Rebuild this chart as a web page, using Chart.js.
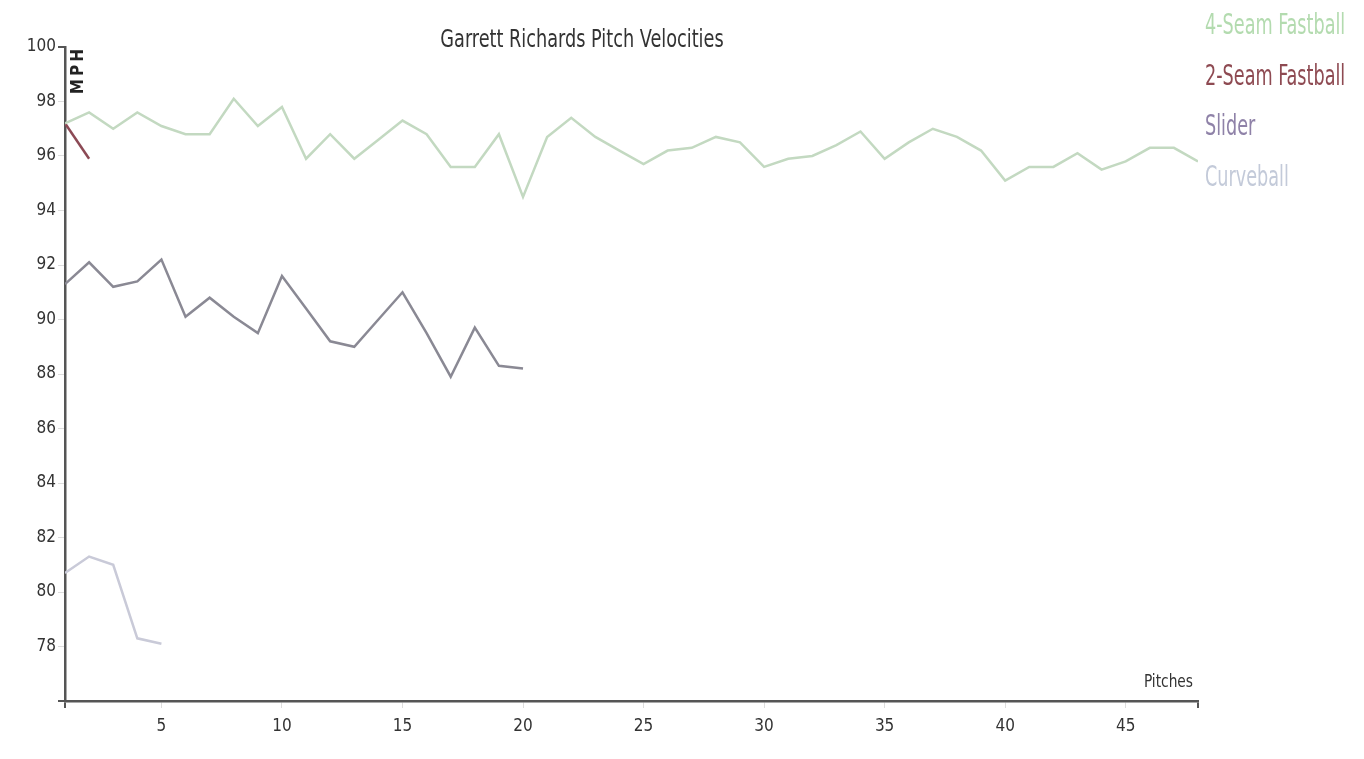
<!DOCTYPE html>
<html>
<head>
<meta charset="utf-8">
<title>Garrett Richards Pitch Velocities</title>
<script src="https://cdn.jsdelivr.net/npm/chart.js@4.4.1/dist/chart.umd.min.js"></script>
<style>
  html, body { margin: 0; padding: 0; background: #fff; }
  #wrap { width: 1364px; height: 759px; position: relative; }
</style>
</head>
<body>
<div id="wrap"><canvas id="chart"></canvas></div>
<script>
// pitch velocities in MPH, pitch n = index + 1
const fourSeam = [97.2, 97.6, 97.0, 97.6, 97.1, 96.8, 96.8, 98.1, 97.1, 97.8,
                  95.9, 96.8, 95.9, 96.6, 97.3, 96.8, 95.6, 95.6, 96.8, 94.5,
                  96.7, 97.4, 96.7, 96.2, 95.7, 96.2, 96.3, 96.7, 96.5, 95.6,
                  95.9, 96.0, 96.4, 96.9, 95.9, 96.5, 97.0, 96.7, 96.2, 95.1,
                  95.6, 95.6, 96.1, 95.5, 95.8, 96.3, 96.3, 95.8];
const twoSeam = [97.2, 95.9];
const slider = [91.3, 92.1, 91.2, 91.4, 92.2, 90.1, 90.8, 90.1, 89.5, 91.6,
                90.4, 89.2, 89.0, 90.0, 91.0, 89.5, 87.9, 89.7, 88.3, 88.2];
const curveball = [80.7, 81.3, 81.0, 78.3, 78.1];

const seriesNames = ['4-Seam Fastball', '2-Seam Fastball', 'Slider', 'Curveball'];
const lineColors = ['#c3d9c1', '#8c4a55', '#8a8994', '#c9cad8'];
const legendColors = ['#b3dbaf', '#8e4a52', '#8f82a8', '#c3cad9'];

const xTicks = [1, 5, 10, 15, 20, 25, 30, 35, 40, 45, 48];
const yTicks = [76, 78, 80, 82, 84, 86, 88, 90, 92, 94, 96, 98, 100];

const FONT = "'Liberation Sans Narrow', 'DejaVu Sans Condensed', Arial, sans-serif";

function toPoints(arr) {
  return arr.map((v, i) => ({ x: i + 1, y: v }));
}

// narrow text: the original uses a condensed face, squeeze horizontally
function narrowText(ctx, text, x, y, squeeze) {
  ctx.save();
  ctx.translate(x, y);
  ctx.scale(squeeze, 1);
  ctx.fillText(text, 0, 0);
  ctx.restore();
}

const overlay = {
  id: 'overlay',
  afterDraw(chart) {
    const ctx = chart.ctx;
    const area = chart.chartArea;
    ctx.save();
    // title
    ctx.fillStyle = '#333';
    ctx.font = '24px ' + FONT;
    ctx.textAlign = 'center';
    ctx.textBaseline = 'middle';
    narrowText(ctx, 'Garrett Richards Pitch Velocities', 582, 41, 0.82);
    // axis titles
    ctx.font = 'bold 17px ' + FONT;
    ctx.fillStyle = '#222';
    ctx.save();
    ctx.translate(area.left + 14, area.top - 1);
    ctx.rotate(-Math.PI / 2);
    ctx.textAlign = 'right';
    ctx.letterSpacing = '3px';
    ctx.fillText('MPH', 0, 0);
    ctx.restore();
    ctx.font = '17px ' + FONT;
    ctx.fillStyle = '#333';
    ctx.textAlign = 'right';
    ctx.textBaseline = 'alphabetic';
    narrowText(ctx, 'Pitches', area.right - 5, area.bottom - 14, 0.9);
    // legend
    ctx.font = '28px ' + FONT;
    ctx.textAlign = 'left';
    ctx.textBaseline = 'middle';
    chart.data.datasets.forEach((ds, i) => {
      ctx.fillStyle = legendColors[i];
      narrowText(ctx, ds.label, 1205, 27 + i * 50.5, 0.7);
    });
    ctx.restore();
  }
};

new Chart(document.getElementById('chart'), {
  type: 'line',
  data: {
    datasets: [fourSeam, twoSeam, slider, curveball].map((arr, i) => ({
      label: seriesNames[i],
      data: toPoints(arr),
      borderColor: lineColors[i],
      borderWidth: 2.5,
      pointRadius: 0,
      tension: 0,
      fill: false
    }))
  },
  options: {
    responsive: true,
    maintainAspectRatio: false,
    animation: false,
    layout: { padding: { top: 47, right: 166, left: 0, bottom: 0 } },
    plugins: {
      legend: { display: false },
      title: { display: false },
      tooltip: { enabled: false }
    },
    scales: {
      x: {
        type: 'linear',
        min: 1,
        max: 48,
        afterBuildTicks(scale) { scale.ticks = xTicks.map(v => ({ value: v })); },
        afterFit(scale) { scale.height = 58; },
        border: { display: true, color: '#555', width: 2.5 },
        grid: {
          drawOnChartArea: false,
          drawTicks: true,
          tickLength: 7,
          color: ctx => (ctx.tick && (ctx.tick.value === 1 || ctx.tick.value === 48)) ? '#555' : '#ddd',
          lineWidth: ctx => (ctx.tick && (ctx.tick.value === 1 || ctx.tick.value === 48)) ? 2 : 1
        },
        ticks: {
          autoSkip: false,
          maxRotation: 0,
          padding: 8,
          color: '#333',
          font: { family: FONT, size: 17 },
          callback: v => (v === 1 || v === 48) ? '' : v
        }
      },
      y: {
        min: 76,
        max: 100,
        afterBuildTicks(scale) { scale.ticks = yTicks.map(v => ({ value: v })); },
        afterFit(scale) { scale.width = 65; },
        border: { display: true, color: '#555', width: 2.5 },
        grid: {
          drawOnChartArea: false,
          drawTicks: true,
          tickLength: 7,
          color: ctx => (ctx.tick && (ctx.tick.value === 76 || ctx.tick.value === 100)) ? '#555' : '#ddd',
          lineWidth: ctx => (ctx.tick && (ctx.tick.value === 76 || ctx.tick.value === 100)) ? 2 : 1
        },
        ticks: {
          autoSkip: false,
          padding: 2,
          color: '#333',
          font: { family: FONT, size: 17 },
          callback: v => v === 76 ? '' : v
        }
      }
    }
  },
  plugins: [overlay]
});
</script>
</body>
</html>
